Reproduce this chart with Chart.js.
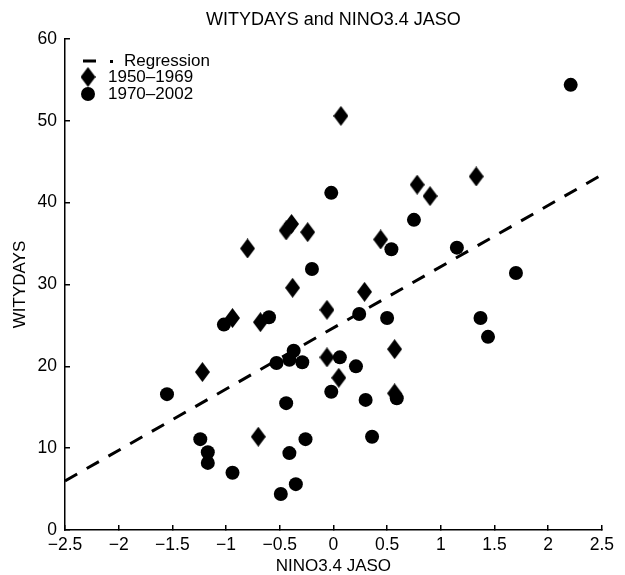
<!DOCTYPE html>
<html>
<head>
<meta charset="utf-8">
<script src="https://cdn.jsdelivr.net/npm/chart.js@4"></script>
<style>
  body { margin: 0; background: #fff; }
  #wrap { width: 625px; height: 575px; }
</style>
</head>
<body>
<div id="wrap"><canvas id="ninoChart"></canvas></div>
<script>
// 1950-1969 seasons (diamonds)
const early_nino = [0.07, 0.78, 0.90, 1.33, 0.44, -0.39, -0.44, -0.24, -0.80, -0.38,
                    -0.94, -0.68, -0.06, -1.22, -0.70, -0.06, 0.29, 0.57, 0.05, 0.57];
const early_days = [50.6, 42.2, 40.8, 43.2, 35.5, 37.4, 36.6, 36.4, 34.4, 29.6,
                    25.9, 25.4, 26.9, 19.3, 11.4, 21.1, 29.1, 22.1, 18.6, 16.7];

// 1970-2002 seasons (circles)
const late_nino = [2.21, -0.02, 0.75, 0.54, 1.15, 1.70, -0.20, -1.02, -0.60, -0.53,
                   -0.37, -0.41, -0.29, -1.55, -0.44, -1.24, -1.17, -1.17, -0.94, -0.41,
                   -0.26, -0.35, -0.49, -0.02, 0.06, 0.24, 0.50, 0.21, 0.30, 0.59,
                   0.36, 1.37, 1.44];
const late_days = [54.4, 41.2, 37.9, 34.3, 34.5, 31.4, 31.9, 25.1, 26.0, 20.4,
                   21.9, 20.8, 20.5, 16.6, 15.5, 11.1, 9.5, 8.2, 7.0, 9.4,
                   11.1, 5.6, 4.4, 16.9, 21.1, 26.4, 25.9, 20.0, 15.9, 16.1,
                   11.4, 25.9, 23.6];

// regression line, value at each end of the x range
const reg_nino = [-2.5, 2.5];
const reg_days = [6.0, 43.4];

function toPoints(xs, ys) {
    return xs.map((x, i) => ({ x: x, y: ys[i] }));
}

// diamond marker, a little taller than it is wide
const diamond = document.createElement('canvas');
diamond.width = 15;
diamond.height = 20;
const dctx = diamond.getContext('2d');
dctx.fillStyle = '#000';
dctx.beginPath();
dctx.moveTo(7.5, 0);
dctx.lineTo(15, 10);
dctx.lineTo(7.5, 20);
dctx.lineTo(0, 10);
dctx.closePath();
dctx.fill();

const FONT = '"Liberation Sans", Arial, sans-serif';

// legend in the top left corner of the plot
const cornerLegend = {
    id: 'cornerLegend',
    afterDraw(chart) {
        const ctx = chart.ctx;
        const left = chart.chartArea.left;
        const top = chart.chartArea.top;
        const sets = chart.data.datasets;
        ctx.save();
        ctx.fillStyle = '#000';
        ctx.font = '17px ' + FONT;
        ctx.textBaseline = 'middle';

        ctx.fillRect(left + 18, top + 20.5, 13, 3);
        ctx.fillRect(left + 45, top + 21, 3, 3);
        ctx.fillText(sets[0].label, left + 59, top + 22);

        ctx.drawImage(diamond, left + 15.5, top + 28);
        ctx.fillText(sets[1].label, left + 43, top + 38);

        ctx.beginPath();
        ctx.arc(left + 23, top + 55, 7, 0, Math.PI * 2);
        ctx.fill();
        ctx.fillText(sets[2].label, left + 43, top + 55);
        ctx.restore();
    }
};

const minus = (v) => String(v).replace('-', '\u2212');

new Chart(document.getElementById('ninoChart'), {
    type: 'scatter',
    data: {
        datasets: [
            {
                label: 'Regression',
                data: toPoints(reg_nino, reg_days),
                showLine: true,
                borderColor: '#000',
                borderWidth: 3,
                borderDash: [14, 11],
                pointRadius: 0,
            },
            {
                label: '1950–1969',
                data: toPoints(early_nino, early_days),
                pointStyle: diamond,
                pointRadius: 7,
                backgroundColor: '#000',
                borderColor: '#000',
            },
            {
                label: '1970–2002',
                data: toPoints(late_nino, late_days),
                pointStyle: 'circle',
                pointRadius: 7,
                borderWidth: 0,
                backgroundColor: '#000',
                borderColor: '#000',
            },
        ],
    },
    options: {
        responsive: true,
        maintainAspectRatio: false,
        animation: false,
        layout: { padding: { top: 0, right: 20, bottom: 0, left: 0 } },
        plugins: {
            legend: { display: false },
            tooltip: { enabled: false },
            title: {
                display: true,
                fullSize: false,
                text: 'WITYDAYS and NINO3.4 JASO',
                color: '#000',
                font: { family: FONT, size: 18, weight: 'normal', lineHeight: 1 },
                padding: { top: 11, bottom: 10 },
            },
        },
        scales: {
            x: {
                min: -2.5,
                max: 2.5,
                afterFit: (scale) => { scale.height = 45; },
                border: { display: true, color: '#000', width: 1.5 },
                grid: { drawOnChartArea: false, color: '#000', lineWidth: 1.5, tickLength: -5 },
                ticks: {
                    stepSize: 0.5,
                    color: '#000',
                    padding: 11,
                    font: { family: FONT, size: 17.5, lineHeight: 1 },
                    callback: minus,
                },
                title: {
                    display: true,
                    text: 'NINO3.4 JASO',
                    color: '#000',
                    font: { family: FONT, size: 17, lineHeight: 1 },
                    padding: { top: 0, bottom: 0 },
                },
            },
            y: {
                min: 0,
                max: 60,
                afterFit: (scale) => { scale.width = 65; },
                border: { display: true, color: '#000', width: 1.5 },
                grid: { drawOnChartArea: false, color: '#000', lineWidth: 1.5, tickLength: -5 },
                ticks: {
                    stepSize: 10,
                    color: '#000',
                    padding: 13,
                    font: { family: FONT, size: 17.5, lineHeight: 1 },
                },
                title: {
                    display: true,
                    text: 'WITYDAYS',
                    color: '#000',
                    font: { family: FONT, size: 17, lineHeight: 1 },
                    padding: { top: 11.5, bottom: 0 },
                },
            },
        },
    },
    plugins: [cornerLegend],
});
</script>
</body>
</html>
